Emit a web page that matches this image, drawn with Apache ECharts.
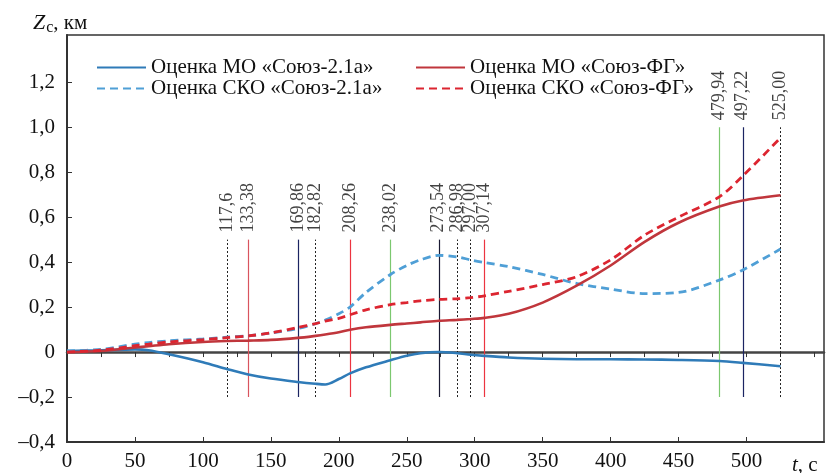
<!DOCTYPE html>
<html><head><meta charset="utf-8">
<script src="https://cdn.jsdelivr.net/npm/echarts@6/dist/echarts.min.js"></script>
<style>html,body{margin:0;padding:0;background:#fff}#c{width:826px;height:473px}</style>
</head><body><div id="c"></div>
<script>
var tVals = [0,25,50,60,75,100,117.6,133.38,150,169.86,182.82,190,200,208.26,220,238.02,250,260,273.54,286.98,297,307.14,325,350,375,400,425,450,479.94,497.22,525];
var moBlue = [0.005,0.008,0.012,0.008,-0.01,-0.045,-0.075,-0.1,-0.118,-0.133,-0.141,-0.144,-0.12,-0.095,-0.068,-0.036,-0.016,-0.005,0,-0.005,-0.012,-0.017,-0.024,-0.03,-0.032,-0.032,-0.033,-0.035,-0.04,-0.048,-0.063];
var skoBlue = [0.005,0.012,0.035,0.042,0.05,0.058,0.066,0.072,0.085,0.105,0.126,0.142,0.17,0.2,0.265,0.345,0.385,0.41,0.43,0.423,0.41,0.398,0.38,0.345,0.305,0.28,0.26,0.265,0.32,0.365,0.458];
var moRed = [0,0.005,0.02,0.026,0.035,0.045,0.049,0.051,0.054,0.063,0.072,0.078,0.088,0.099,0.11,0.121,0.127,0.132,0.139,0.143,0.147,0.152,0.17,0.22,0.295,0.385,0.49,0.575,0.647,0.674,0.697];
var skoRed = [0,0.008,0.028,0.035,0.045,0.055,0.064,0.072,0.085,0.109,0.126,0.138,0.15,0.166,0.188,0.211,0.22,0.228,0.234,0.237,0.242,0.25,0.27,0.3,0.335,0.41,0.52,0.6,0.69,0.783,0.953];
var seriesNames = ['Оценка МО «Союз-2.1а»','Оценка СКО «Союз-2.1а»','Оценка МО «Союз-ФГ»','Оценка СКО «Союз-ФГ»'];
var vLines = [117.6,133.38,169.86,182.82,208.26,238.02,273.54,286.98,297.00,307.14,479.94,497.22,525.00];
var vLabels = ['117,6','133,38','169,86','182,82','208,26','238,02','273,54','286,98','297,00','307,14','479,94','497,22','525,00'];
var vTops = [0.5,0.5,0.5,0.5,0.5,0.5,0.5,0.5,0.5,0.5,1.0,1.0,1.0];
var vKinds = ['dot','red1','navy','dot','red2','green','black','dot','dot','red2','green','navy','dot'];
var vBottom = -0.2;
var xTickLabels = [0,50,100,150,200,250,300,350,400,450,500];
var xZeroTicks = [25,50,75,100,125,150,175,200,225,250,275,300,325,350,375,400,425,450,475,500,525,550];
var yTickLabels = [-0.4,-0.2,0,0.2,0.4,0.6,0.8,1.0,1.2];

var kindStyle = {
  dot:{color:'#222',width:1,type:[2,2]},
  red1:{color:'#d9545e',width:1.2,type:'solid'},
  red2:{color:'#ec3440',width:1.2,type:'solid'},
  navy:{color:'#1b2462',width:1.2,type:'solid'},
  black:{color:'#1a1a33',width:1.2,type:'solid'},
  green:{color:'#7cc86f',width:1.2,type:'solid'}
};
function pairs(ys){return tVals.map(function(t,i){return [t,ys[i]];});}
var serif = 'Liberation Serif';
var mlData = vLines.map(function(x,i){
  return [{coord:[x,vBottom],lineStyle:kindStyle[vKinds[i]]},{coord:[x,vTops[i]]}];
});
var labelData = vLines.map(function(x,i){return {value:[x,vTops[i]],name:vLabels[i]};});
var hideSym = {color:'rgba(0,0,0,0)',borderColor:'rgba(0,0,0,0)',borderWidth:0,opacity:0};
var legendText = {fontFamily:serif,fontSize:21,lineHeight:20,color:'#111'};

var chart = echarts.init(document.getElementById('c'),null,{renderer:'canvas'});
chart.setOption({
  animation:false,
  title:[
    {left:28,top:6,text:'{z|Z}{s|с}{n|, км}',textStyle:{rich:{
      z:{fontFamily:serif,fontStyle:'italic',fontWeight:'normal',fontSize:22,color:'#111'},
      s:{fontFamily:serif,fontWeight:'normal',fontSize:16,color:'#111',padding:[9,0,0,1]},
      n:{fontFamily:serif,fontWeight:'normal',fontSize:21,color:'#111'}}}},
    {left:787,top:450,text:'{t|t}{n|, с}',textStyle:{rich:{
      t:{fontFamily:serif,fontStyle:'italic',fontWeight:'normal',fontSize:21,color:'#111'},
      n:{fontFamily:serif,fontWeight:'normal',fontSize:21,color:'#111'}}}}
  ],
  legend:[
    {left:91,top:52,orient:'vertical',itemGap:0,itemWidth:49,itemHeight:14,
     data:[seriesNames[0],seriesNames[1]],textStyle:legendText,itemStyle:hideSym},
    {left:410,top:52,orient:'vertical',itemGap:0,itemWidth:49,itemHeight:14,
     data:[seriesNames[2],seriesNames[3]],textStyle:legendText,itemStyle:hideSym}
  ],
  grid:{left:67,right:2,top:35,bottom:31,show:true,borderColor:'#333',borderWidth:1.5,backgroundColor:'transparent'},
  xAxis:[
    {type:'value',min:0,max:557,position:'bottom',
     axisLine:{onZero:false,lineStyle:{color:'#333',width:2}},
     axisTick:{inside:true,length:5,customValues:xTickLabels,lineStyle:{color:'#333'}},
     axisLabel:{customValues:xTickLabels,fontFamily:serif,fontSize:21,color:'#111',margin:9},
     splitLine:{show:false}},
    {type:'value',min:0,max:557,position:'bottom',
     axisLine:{onZero:true,lineStyle:{color:'#444',width:2.5}},
     axisTick:{inside:false,length:5,customValues:xZeroTicks,lineStyle:{color:'#333'}},
     axisLabel:{show:false},splitLine:{show:false}}
  ],
  yAxis:{type:'value',min:-0.4,max:1.41,
     axisLine:{show:true,onZero:false,lineStyle:{color:'#333',width:2}},
     axisTick:{inside:true,length:5,customValues:yTickLabels,lineStyle:{color:'#333'}},
     axisLabel:{customValues:yTickLabels,fontFamily:serif,fontSize:21,color:'#111',margin:12,
       formatter:function(v){var s=Math.abs(v).toFixed(1).replace('.',','); if(Math.abs(v)<1e-9) return '0'; return (v<0?'–':'')+s;}},
     splitLine:{show:false}},
  series:[
    {type:'line',name:'vlines',data:[],silent:true,z:1,
     markLine:{silent:true,symbol:['none','none'],label:{show:false},data:mlData,animation:false}},
    {type:'scatter',name:'vlabels',data:labelData,symbolSize:0,silent:true,z:3,
     label:{show:true,position:'top',distance:7,rotate:90,align:'left',verticalAlign:'middle',
       formatter:function(p){return p.name;},fontFamily:serif,fontSize:18,color:'#111'}},
    {type:'line',name:seriesNames[0],data:pairs(moBlue),smooth:0.3,symbol:'none',z:5,
     lineStyle:{color:'#2f7bb8',width:2.6},itemStyle:{color:'#2f7bb8'}},
    {type:'line',name:seriesNames[1],data:pairs(skoBlue),smooth:0.3,symbol:'none',z:5,
     lineStyle:{color:'#4f9fd6',width:2.8,type:[8,5]},itemStyle:{color:'#4f9fd6'}},
    {type:'line',name:seriesNames[2],data:pairs(moRed),smooth:0.3,symbol:'none',z:5,
     lineStyle:{color:'#c0363c',width:2.6},itemStyle:{color:'#c0363c'}},
    {type:'line',name:seriesNames[3],data:pairs(skoRed),smooth:0.3,symbol:'none',z:6,
     lineStyle:{color:'#dc2530',width:2.8,type:[8,5]},itemStyle:{color:'#dc2530'}}
  ]
});
</script></body></html>
